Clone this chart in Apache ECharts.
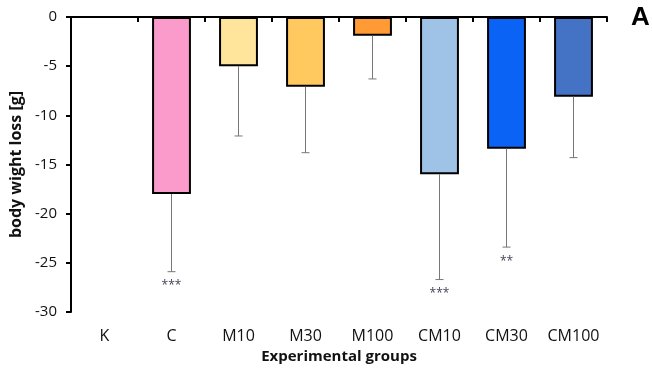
<!DOCTYPE html>
<html>
<head>
<meta charset="utf-8">
<script src="https://cdn.jsdelivr.net/npm/echarts@6/dist/echarts.min.js"></script>
<style>
html,body{margin:0;padding:0;background:#fff;}
#chart{width:652px;height:379px;}
</style>
</head>
<body>
<div id="chart"></div>
<script>
var FONT = "Open Sans";
var categories = ["K", "C", "M10", "M30", "M100", "CM10", "CM30", "CM100"];
var means = [0, -18, -5, -7.1, -1.9, -16, -13.4, -8.1];
var errorEnds = [null, -25.9, -12.1, -13.8, -6.3, -26.7, -23.4, -14.3];
var stars = ["", "***", "", "", "", "***", "**", ""];
var barColors = ["#ffffff", "#fb9bcb", "#ffe59b", "#ffc95f", "#ff9a34", "#9fc3e7", "#0b63f6", "#4472c4"];

var chart = echarts.init(document.getElementById("chart"));

var errData = [];
for (var i = 0; i < categories.length; i++) {
	if (errorEnds[i] != null) {
		errData.push([i, means[i], errorEnds[i], stars[i]]);
	}
}

var option = {
	backgroundColor: "#fff",
	animation: false,
	grid: { left: 71, right: 45, top: 17, bottom: 67 },
	xAxis: [
		{
			type: "category",
			data: categories,
			position: "top",
			axisLine: { show: true, lineStyle: { color: "#000", width: 2 } },
			axisTick: { show: true, inside: true, length: 5, interval: 0, lineStyle: { color: "#000", width: 2 } },
			axisLabel: { show: false }
		},
		{
			type: "category",
			data: categories,
			position: "bottom",
			axisLine: { show: false },
			axisTick: { show: false },
			axisLabel: { show: true, interval: 0, color: "#111", fontFamily: FONT, fontSize: 16, margin: 16 },
			name: "Experimental groups",
			nameLocation: "middle",
			nameGap: 33,
			nameTextStyle: { color: "#111", fontFamily: FONT, fontSize: 15, fontWeight: "bold" }
		}
	],
	yAxis: {
		type: "value",
		min: -30,
		max: 0,
		interval: 5,
		axisLine: { show: true, lineStyle: { color: "#000", width: 2 } },
		axisTick: { show: true, length: 5, lineStyle: { color: "#000", width: 2 } },
		axisLabel: { color: "#111", fontFamily: FONT, fontSize: 15, margin: 14 },
		splitLine: { show: false },
		name: "body wight loss [g]",
		nameLocation: "middle",
		nameGap: 44,
		nameTextStyle: { color: "#111", fontFamily: FONT, fontSize: 16, fontWeight: "bold" }
	},
	series: [
		{
			type: "bar",
			xAxisIndex: 0,
			barWidth: "58%",
			data: means.map(function(v, i) {
				return {
					value: v,
					itemStyle: { color: barColors[i], borderColor: "#000", borderWidth: i === 0 ? 0 : 2 }
				};
			}),
			z: 2
		},
		{
			type: "custom",
			xAxisIndex: 0,
			data: errData,
			z: 3,
			renderItem: function(params, api) {
				var top = api.coord([api.value(0), api.value(1)]);
				var bot = api.coord([api.value(0), api.value(2)]);
				var star = errData[params.dataIndex][3];
				var style = { stroke: "#777", lineWidth: 1 };
				return {
					type: "group",
					children: [
						{ type: "line", shape: { x1: top[0], y1: top[1], x2: bot[0], y2: bot[1] }, style: style },
						{ type: "line", shape: { x1: bot[0] - 4, y1: bot[1], x2: bot[0] + 4, y2: bot[1] }, style: style },
						{
							type: "text",
							x: bot[0],
							y: bot[1] + 8,
							style: { text: star, fill: "#445", font: "12px " + FONT, align: "center", verticalAlign: "top" }
						}
					]
				};
			}
		}
	],
	graphic: [
		{
			type: "text",
			left: 631,
			top: 5,
			style: { text: "A", fill: "#000", font: "bold 26px Arial" }
		}
	]
};
chart.setOption(option);
</script>
</body>
</html>
